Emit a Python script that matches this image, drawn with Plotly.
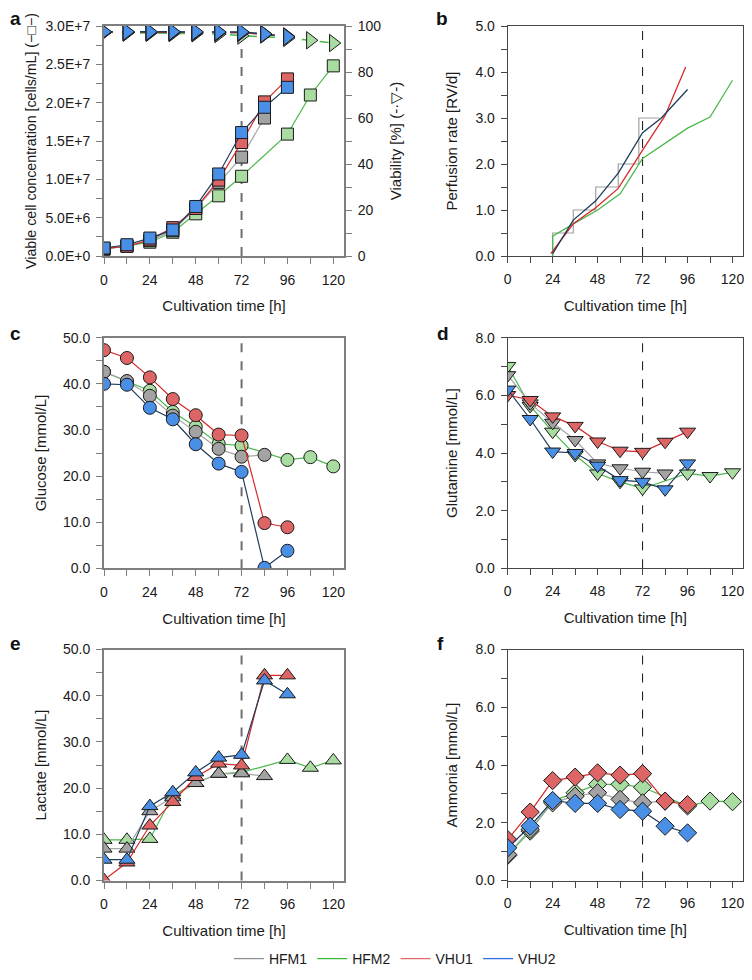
import plotly.graph_objects as go

# tempos de amostragem [h]
t_hfm1 = [0, 12, 24, 36, 48, 60, 72, 84]
t_hfm2 = [0, 12, 24, 36, 48, 60, 72, 96, 108, 120]
t_vhu = [0, 12, 24, 36, 48, 60, 72, 84, 96]

# a) VCC [cells/mL]
vcc_hfm1 = [0.9e6, 1.3e6, 2.0e6, 3.3e6, 6.2e6, 9.6e6, 12.9e6, 18.0e6]
vcc_hfm2 = [0.9e6, 1.3e6, 1.8e6, 3.1e6, 5.5e6, 7.85e6, 10.4e6, 15.9e6, 21.0e6, 24.8e6]
vcc_vhu1 = [1.0e6, 1.26e6, 2.1e6, 3.7e6, 6.2e6, 9.9e6, 14.8e6, 20.1e6, 23.1e6]
vcc_vhu2 = [1.04e6, 1.47e6, 2.34e6, 3.4e6, 6.46e6, 10.7e6, 16.1e6, 19.4e6, 22.0e6]

# a) viabilidade [%]
via_hfm1 = [97.3, 97.3, 97.3, 97.2, 97.2, 97.1, 97.0, 96.5]
via_hfm2 = [97.2, 97.1, 97.0, 96.9, 96.8, 96.5, 95.8, 94.8, 93.8, 92.6]
via_vhu1 = [97.4, 97.4, 97.4, 97.4, 97.3, 97.3, 97.2, 96.3, 95.5]
via_vhu2 = [97.5, 97.5, 97.5, 97.5, 97.5, 97.4, 97.4, 96.5, 95.3]

# b) taxa de perfusão [RV/d]
perf_set_t = [24, 24, 35, 47, 59, 70, 81]
perf_set = [0.0, 0.5, 1.0, 1.5, 2.0, 3.0, 3.0]
perf_t_hfm2 = [24, 24, 36, 48, 60, 72, 96, 108, 120]
perf_hfm2 = [0.0, 0.43, 0.72, 1.0, 1.35, 2.12, 2.78, 3.02, 3.82]
perf_t_vhu1 = [23, 35, 47, 59, 72, 84, 95]
perf_vhu1 = [0.05, 0.70, 1.05, 1.47, 2.30, 3.05, 4.11]
perf_t_vhu2 = [24, 35, 47, 59, 72, 82, 96]
perf_vhu2 = [0.05, 0.78, 1.20, 1.80, 2.68, 3.0, 3.62]

# c) glicose [mmol/L]
glc_hfm1 = [42.6, 40.6, 37.4, 33.1, 29.6, 25.9, 24.2, 24.6]
glc_hfm2 = [42.6, 40.5, 38.5, 33.9, 30.7, 27.0, 26.6, 23.5, 24.1, 22.1]
glc_vhu1 = [47.3, 45.6, 41.4, 36.7, 33.2, 29.0, 28.8, 9.8, 8.9]
glc_vhu2 = [40.0, 39.8, 34.8, 32.3, 26.9, 22.7, 20.9, 0.1, 3.8]

# d) glutamina [mmol/L]
gln_hfm1 = [6.7, 5.72, 5.05, 4.45, 3.64, 3.47, 3.35, 3.29]
gln_hfm2 = [7.02, 5.63, 4.74, 3.93, 3.29, 3.0, 2.77, 3.29, 3.2, 3.33]
gln_vhu1 = [6.01, 5.84, 5.27, 4.94, 4.40, 4.08, 4.04, 4.39, 4.74]
gln_vhu2 = [6.2, 5.18, 4.05, 4.0, 3.56, 3.06, 3.0, 2.74, 3.64]

# e) lactato [mmol/L]
lac_hfm1 = [6.9, 6.9, 15.0, 18.0, 21.1, 23.1, 23.2, 22.6]
lac_hfm2 = [8.8, 8.8, 9.0, 18.4, 21.1, 23.1, 23.4, 26.1, 24.4, 26.0]
lac_vhu1 = [0.1, 3.9, 11.9, 17.0, 22.4, 25.3, 24.9, 44.4, 44.4]
lac_vhu2 = [4.5, 4.5, 16.1, 19.1, 23.4, 26.6, 27.2, 43.3, 40.3]

# f) amônia [mmol/L]
amm_hfm1 = [0.9, 1.77, 2.69, 2.92, 3.04, 2.81, 2.69, 2.75]
amm_hfm2 = [0.87, 1.71, 2.75, 3.04, 3.33, 3.33, 3.23, 2.58, 2.75, 2.73]
amm_vhu1 = [1.42, 2.37, 3.46, 3.58, 3.73, 3.65, 3.70, 2.75, 2.63]
amm_vhu2 = [1.13, 1.88, 2.77, 2.67, 2.67, 2.46, 2.40, 1.88, 1.65]

nomes = ['HFM1', 'HFM2', 'VHU1', 'VHU2']
cor_linha = {'HFM1': '#a6a6a6', 'HFM2': '#4cb84c', 'VHU1': '#d42a2a', 'VHU2': '#1f3c5c'}
cor_marker = {'HFM1': '#a3a3a3', 'HFM2': '#a9dca0', 'VHU1': '#de6565', 'VHU2': '#4a8fe6'}
cor_legenda = {'HFM1': '#909090', 'HFM2': '#3cb83c', 'VHU1': '#e06a6a', 'VHU2': '#2f6fe0'}
tempos = {'HFM1': t_hfm1, 'HFM2': t_hfm2, 'VHU1': t_vhu, 'VHU2': t_vhu}
ordem = ['HFM2', 'HFM1', 'VHU1', 'VHU2']

FONTE = 'Liberation Sans, Arial, sans-serif'
TICK = 14
TIT = 15

fig = go.Figure()


def add_serie(xa, ya, dados, simbolo, tam, dash='solid', larg=1.2):
    for nome in ordem:
        fig.add_trace(go.Scatter(
            x=tempos[nome], y=dados[nome], xaxis=xa, yaxis=ya,
            mode='lines+markers', showlegend=False,
            line=dict(color=cor_linha[nome], width=larg, dash=dash),
            marker=dict(symbol=simbolo, size=tam, color=cor_marker[nome],
                        line=dict(color='#1a1a1a', width=1))
        ))


# Painel a
add_serie('x', 'y2', dict(HFM1=via_hfm1, HFM2=via_hfm2, VHU1=via_vhu1, VHU2=via_vhu2),
          'triangle-right', 15, dash='dash', larg=1.5)
add_serie('x', 'y', dict(HFM1=vcc_hfm1, HFM2=vcc_hfm2, VHU1=vcc_vhu1, VHU2=vcc_vhu2), 'square', 12)

# Painel b
fig.add_trace(go.Scatter(x=perf_set_t, y=perf_set, xaxis='x2', yaxis='y3', mode='lines',
                         line=dict(color='#a0a0a0', width=1.2, shape='hv'), showlegend=False))
for tt, vv, nome in [(perf_t_hfm2, perf_hfm2, 'HFM2'), (perf_t_vhu1, perf_vhu1, 'VHU1'),
                     (perf_t_vhu2, perf_vhu2, 'VHU2')]:
    fig.add_trace(go.Scatter(x=tt, y=vv, xaxis='x2', yaxis='y3', mode='lines',
                             line=dict(color=cor_linha[nome], width=1.3), showlegend=False))

# Paineis c-f
add_serie('x3', 'y4', dict(HFM1=glc_hfm1, HFM2=glc_hfm2, VHU1=glc_vhu1, VHU2=glc_vhu2), 'circle', 13)
add_serie('x4', 'y5', dict(HFM1=gln_hfm1, HFM2=gln_hfm2, VHU1=gln_vhu1, VHU2=gln_vhu2), 'triangle-down', 14)
add_serie('x5', 'y6', dict(HFM1=lac_hfm1, HFM2=lac_hfm2, VHU1=lac_vhu1, VHU2=lac_vhu2), 'triangle-up', 14)
add_serie('x6', 'y7', dict(HFM1=amm_hfm1, HFM2=amm_hfm2, VHU1=amm_vhu1, VHU2=amm_vhu2), 'diamond', 14)

# legenda
for nome in nomes:
    fig.add_trace(go.Scatter(x=[None], y=[None], mode='lines', name=nome,
                             line=dict(color=cor_legenda[nome], width=1.3), showlegend=True))

# a página tem 8 px de margem: figura menor e posições deslocadas
W, H = 744, 964
col_esq = [96 / W, 336 / W]
col_dir = [499.7 / W, 735.0 / W]
linhas = [[1 - 248 / H, 1 - 18 / H], [1 - 560.3 / H, 1 - 329.7 / H], [1 - 872.5 / H, 1 - 641.5 / H]]

cinza = '#7f7f7f'
escuro = '#454545'


def eixo_x(dom, anc, cor, larg):
    return dict(domain=dom, anchor=anc, range=[0, 125.6], tickvals=[0, 24, 48, 72, 96, 120],
                ticks='outside', ticklen=6, tickwidth=1, tickcolor=cor, ticklabelstandoff=4,
                minor=dict(tickvals=[12, 36, 60, 84, 108], ticks='outside', ticklen=6,
                           tickcolor=cor, tickwidth=1),
                showline=True, linecolor=cor, linewidth=larg, mirror=True,
                showgrid=False, zeroline=False, automargin=False,
                title=dict(text='Cultivation time [h]', font=dict(size=TIT), standoff=14),
                tickfont=dict(size=TICK))


def eixo_y(dom, anc, cor, larg, rng, dt, titulo, sf=13, mirror=True):
    return dict(domain=dom, anchor=anc, range=rng, dtick=dt, tickformat='.1f',
                ticks='outside', ticklen=6, tickwidth=1, tickcolor=cor, ticklabelstandoff=3,
                minor=dict(dtick=dt / 2, ticks='outside', ticklen=6, tickcolor=cor, tickwidth=1),
                showline=True, linecolor=cor, linewidth=larg, mirror=mirror,
                showgrid=False, zeroline=False, automargin=False,
                title=dict(text=titulo, font=dict(size=TIT), standoff=sf),
                tickfont=dict(size=TICK))


vcc_ticks = [0, 5e6, 1e7, 1.5e7, 2e7, 2.5e7, 3e7]
vcc_labels = ['0.0E+0', '5.0E+6', '1.0E+7', '1.5E+7', '2.0E+7', '2.5E+7', '3.0E+7']

ya = eixo_y(linhas[0], 'x', cinza, 2, [0, 3e7], 5e6,
            'Viable cell concentration [cells/mL] (−□−)', sf=5, mirror=False)
ya.update(tickvals=vcc_ticks, ticktext=vcc_labels, tickformat=None,
          minor=dict(tickvals=[2.5e6, 7.5e6, 1.25e7, 1.75e7, 2.25e7, 2.75e7],
                     ticks='outside', ticklen=6, tickcolor=cinza, tickwidth=1))
ya['title']['font'] = dict(size=14.2)
ya2 = dict(overlaying='y', side='right', anchor='x', range=[0, 100], dtick=20,
           ticks='outside', ticklen=6, tickwidth=1, tickcolor=cinza, ticklabelstandoff=3,
           minor=dict(dtick=10, ticks='outside', ticklen=6, tickcolor=cinza, tickwidth=1),
           showline=True, linecolor=cinza, linewidth=2, showgrid=False, zeroline=False,
           automargin=False,
           title=dict(text='Viability [%] (-·▽-)', font=dict(size=TIT), standoff=10),
           tickfont=dict(size=TICK))

fig.update_layout(
    width=W, height=H,
    margin=dict(l=0, r=0, t=0, b=0, autoexpand=False),
    paper_bgcolor='white', plot_bgcolor='white',
    font=dict(family=FONTE, size=TICK, color='#1a1a1a'),
    xaxis=eixo_x(col_esq, 'y', cinza, 2),
    yaxis=ya, yaxis2=ya2,
    xaxis2=eixo_x(col_dir, 'y3', escuro, 1),
    yaxis3=eixo_y(linhas[0], 'x2', escuro, 1, [0, 5], 1.0, 'Perfusion rate [RV/d]', sf=14),
    xaxis3=eixo_x(col_esq, 'y4', cinza, 2),
    yaxis4=eixo_y(linhas[1], 'x3', cinza, 2, [0, 50], 10, 'Glucose [mmol/L]'),
    xaxis4=eixo_x(col_dir, 'y5', escuro, 1),
    yaxis5=eixo_y(linhas[1], 'x4', escuro, 1, [0, 8], 2, 'Glutamine [mmol/L]', sf=14),
    xaxis5=eixo_x(col_esq, 'y6', cinza, 2),
    yaxis6=eixo_y(linhas[2], 'x5', cinza, 2, [0, 50], 10, 'Lactate [mmol/L]'),
    xaxis6=eixo_x(col_dir, 'y7', escuro, 1),
    yaxis7=eixo_y(linhas[2], 'x6', escuro, 1, [0, 8], 2, 'Ammonia [mmol/L]', sf=14),
    legend=dict(orientation='h', x=0.52, xanchor='center', y=1 - 951 / H, yanchor='middle',
                font=dict(size=14), itemwidth=30, tracegroupgap=0),
    showlegend=True,
)

# linha tracejada em 72 h
for xa, ya_, cor, larg in [('x', 'y', '#6e6e6e', 2), ('x2', 'y3', '#111111', 1),
                           ('x3', 'y4', '#6e6e6e', 2), ('x4', 'y5', '#111111', 1),
                           ('x5', 'y6', '#6e6e6e', 2), ('x6', 'y7', '#111111', 1)]:
    fig.add_shape(type='line', xref=xa, yref=ya_ + ' domain', x0=72, x1=72, y0=0, y1=1,
                  line=dict(color=cor, width=larg, dash='dash'), layer='below')

# letras dos paineis
for letra, px, py, anc in [('a', 0, 11, 'left'), ('b', 434, 11, 'center'), ('c', 0, 325, 'left'),
                           ('d', 435, 325, 'center'), ('e', 0, 635, 'left'), ('f', 432, 635, 'center')]:
    fig.add_annotation(text=f'<b>{letra}</b>', xref='paper', yref='paper',
                       x=px / W, y=1 - py / H, xanchor=anc, yanchor='middle',
                       showarrow=False, font=dict(size=19, color='#111111'))

fig.write_html("out.html")
